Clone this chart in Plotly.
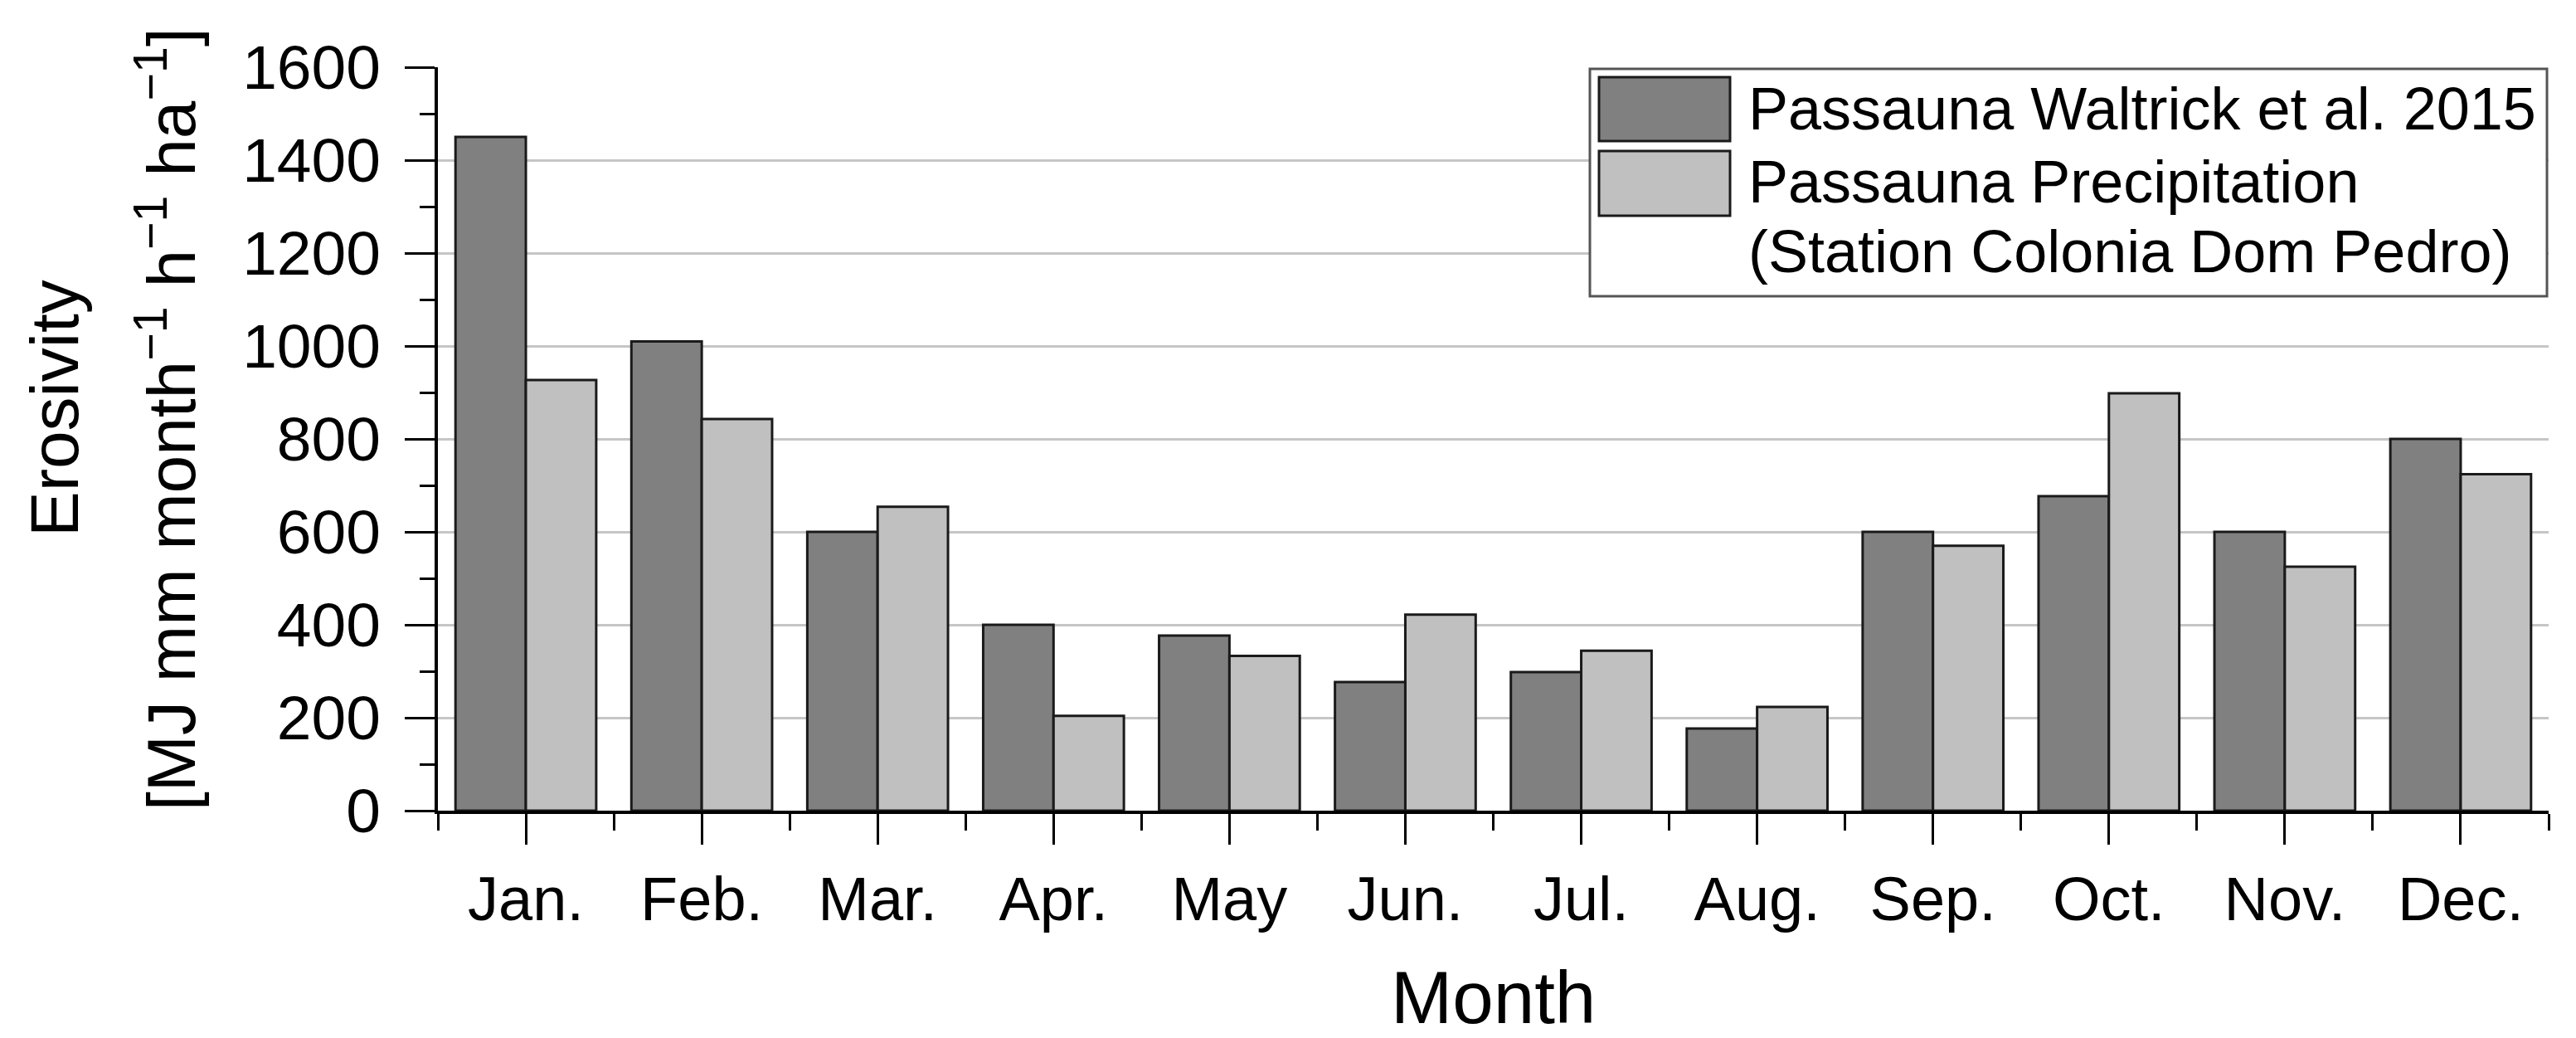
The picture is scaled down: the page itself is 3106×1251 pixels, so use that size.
import plotly.graph_objects as go

months = ["Jan.", "Feb.", "Mar.", "Apr.", "May", "Jun.", "Jul.", "Aug.", "Sep.", "Oct.", "Nov.", "Dec."]
waltrick = [1450, 1010, 600, 400, 377, 277, 298, 177, 600, 677, 600, 800]
precipitation = [927, 843, 654, 204, 333, 422, 344, 223, 570, 898, 525, 724]
y_ticks = [0, 200, 400, 600, 800, 1000, 1200, 1400, 1600]
grid_vals = [200, 400, 600, 800, 1000, 1200, 1400]
series_names = ["Passauna Waltrick et al. 2015", "Passauna Precipitation", "(Station Colonia Dom Pedro)"]

FONT = "Liberation Sans, Arial, sans-serif"
DARK = "#808080"
LIGHT = "#c0c0c0"
EDGE = "#1a1a1a"

idx = list(range(len(months)))

fig = go.Figure()
fig.add_trace(go.Bar(x=idx, y=waltrick, name=series_names[0],
                     marker=dict(color=DARK, line=dict(color=EDGE, width=3))))
fig.add_trace(go.Bar(x=idx, y=precipitation, name=series_names[1],
                     marker=dict(color=LIGHT, line=dict(color=EDGE, width=3))))

W, H = 3106, 1251
L, R, T, B = 528, 33, 81, 274
pw = W - L - R
ph = H - T - B

def px_x(p):
    return (p - L) / pw

def px_y(p):
    return (H - B - p) / ph

fig.update_layout(
    width=W, height=H, autosize=False,
    margin=dict(l=L, r=R, t=T, b=B, pad=0),
    paper_bgcolor="white", plot_bgcolor="white",
    barmode="group", bargap=0.2, bargroupgap=0,
    showlegend=False,
    font=dict(family=FONT, color="black"),
    xaxis=dict(
        range=[-0.5, len(months) - 0.5],
        tickmode="array", tickvals=idx, ticktext=months,
        ticks="outside", ticklen=37, tickwidth=3, tickcolor="black",
        showline=True, linewidth=4, linecolor="black",
        showgrid=False, zeroline=False,
        tickfont=dict(size=74, family=FONT, color="black"),
        ticklabelstandoff=2,
        minor=dict(tick0=0.5, dtick=1, ticks="outside", ticklen=20, tickwidth=3,
                   tickcolor="black", showgrid=False),
    ),
    yaxis=dict(
        range=[0, 1600],
        tickmode="array", tickvals=y_ticks,
        ticks="outside", ticklen=36, tickwidth=3, tickcolor="black",
        showline=True, linewidth=4, linecolor="black",
        showgrid=False, zeroline=False,
        tickfont=dict(size=75, family=FONT, color="black"),
        ticklabelstandoff=14,
        minor=dict(tick0=0, dtick=100, ticks="outside", ticklen=18, tickwidth=3,
                   tickcolor="black", showgrid=False),
    ),
    yaxis2=dict(
        overlaying="y", range=[0, 1600],
        tickmode="array", tickvals=grid_vals,
        showticklabels=False, ticks="", showline=False, zeroline=False,
        showgrid=True, gridcolor="#c6c6c6", gridwidth=2.5,
    ),
)

# invisible trace so the grid axis is rendered
fig.add_trace(go.Scatter(x=[idx[0]], y=[grid_vals[0]], yaxis="y2", mode="markers",
                         marker=dict(opacity=0), hoverinfo="skip", showlegend=False))

# axis titles
fig.add_annotation(text="Erosivity", xref="paper", yref="paper",
                   x=px_x(66), y=px_y(492), xanchor="center", yanchor="middle",
                   textangle=-90, showarrow=False,
                   font=dict(size=82, family=FONT, color="black"))
fig.add_annotation(text="[MJ mm month<sup>−1</sup> h<sup>−1</sup> ha<sup>−1</sup>]",
                   xref="paper", yref="paper",
                   x=px_x(200), y=px_y(505), xanchor="center", yanchor="middle",
                   textangle=-90, showarrow=False,
                   font=dict(size=82, family=FONT, color="black"))
fig.add_annotation(text="Month", xref="paper", yref="paper",
                   x=0.5, y=px_y(1202), xanchor="center", yanchor="middle",
                   showarrow=False, font=dict(size=89, family=FONT, color="black"))

# legend box
fig.add_shape(type="rect", xref="paper", yref="paper",
              x0=px_x(1917), x1=px_x(3071), y0=px_y(357), y1=px_y(83),
              fillcolor="white", line=dict(color="#555555", width=3), layer="above")
fig.add_shape(type="rect", xref="paper", yref="paper",
              x0=px_x(1928), x1=px_x(2086), y0=px_y(170), y1=px_y(93),
              fillcolor=DARK, line=dict(color=EDGE, width=3), layer="above")
fig.add_shape(type="rect", xref="paper", yref="paper",
              x0=px_x(1928), x1=px_x(2086), y0=px_y(260), y1=px_y(182),
              fillcolor=LIGHT, line=dict(color=EDGE, width=3), layer="above")
for name, yc in zip(series_names, [131, 219, 303]):
    fig.add_annotation(text=name, xref="paper", yref="paper",
                       x=px_x(2106), y=px_y(yc), xanchor="left", yanchor="middle",
                       showarrow=False, font=dict(size=72, family=FONT, color="black"))

fig.write_html("out.html")
